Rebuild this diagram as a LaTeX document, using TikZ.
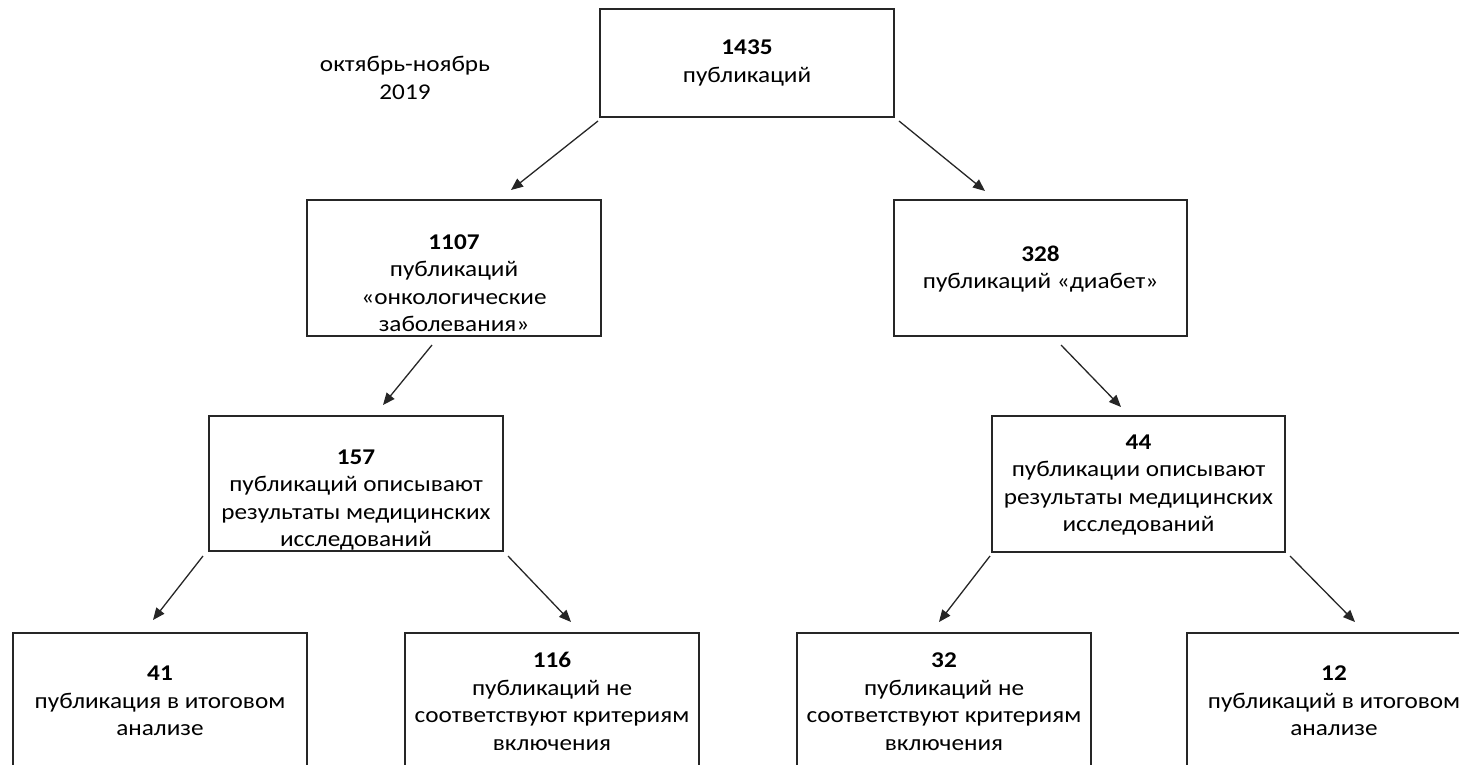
\documentclass[tikz,border=0pt]{standalone}
\usepackage{fontspec}
\setmainfont{Carlito}[FakeStretch=1.12]
\usetikzlibrary{arrows.meta}
\tikzset{
  box/.style={draw=black!85, line width=1.4pt, minimum width=294pt, minimum height=136pt, inner sep=0pt, outer sep=0pt},
  txt/.style={align=center, font=\fontsize{22.5pt}{27.5pt}\selectfont, inner sep=0pt},
  arr/.style={draw=black!85, line width=1.3pt, -{Triangle[length=12pt,width=10pt]}}
}
\begin{document}
\begin{tikzpicture}[x=1pt,y=-1pt]
\useasboundingbox (0,0) rectangle (1459,764);
\clip (0,0) rectangle (1459,764);
% boxes
\node[box, minimum height=108pt] (top) at (747,63) {};
\node[box] (L1) at (454,268) {};
\node[box, minimum width=293pt] (R1) at (1040.5,268) {};
\node[box, minimum height=135pt] (L2) at (356,483.5) {};
\node[box, minimum width=293pt] (R2) at (1138.5,484) {};
\node[box] (B1) at (160,701) {};
\node[box] (B2) at (552,701) {};
\node[box] (B3) at (944,701) {};
\node[box] (B4) at (1334,701) {};
% texts
\node[txt] (date) at (405,78) {октябрь-ноябрь\\2019};
\node[txt] (topt) at (747,63) {\textbf{1435}\\публикаций};
\node[txt] (L1t) at (454,283) {\textbf{1107}\\публикаций\\«онкологические\\заболевания»};
\node[txt] (R1t) at (1040.5,269) {\textbf{328}\\публикаций «диабет»};
\node[txt] (L2t) at (356,500) {\textbf{157}\\публикаций описывают\\результаты медицинских\\исследований};
\node[txt] (R2t) at (1138.5,485) {\textbf{44}\\публикации описывают\\результаты медицинских\\исследований};
\node[txt] (B1t) at (160,701) {\textbf{41}\\публикация в итоговом\\анализе};
\node[txt] (B2t) at (552,701.5) {\textbf{116}\\публикаций не\\соответствуют критериям\\включения};
\node[txt] (B3t) at (944,701.5) {\textbf{32}\\публикаций не\\соответствуют критериям\\включения};
\node[txt] (B4t) at (1334,701) {\textbf{12}\\публикаций в итоговом\\анализе};
% arrows
\draw[arr] ([shift={(-2,4)}]top.south west) -- ([shift={(204,-10)}]L1.north west);
\draw[arr] ([shift={(5,4)}]top.south east) -- ([shift={(91,-9)}]R1.north west);
\draw[arr] ([shift={(125,9)}]L1.south west) -- ([shift={(174,-11)}]L2.north west);
\draw[arr] ([shift={(167,9)}]R1.south west) -- ([shift={(129,-9)}]R2.north west);
\draw[arr] ([shift={(-6,5)}]L2.south west) -- ([shift={(140,-13)}]B1.north west);
\draw[arr] ([shift={(5,5)}]L2.south east) -- ([shift={(166,-11)}]B2.north west);
\draw[arr] ([shift={(-2,4)}]R2.south west) -- ([shift={(142,-11)}]B3.north west);
\draw[arr] ([shift={(5,4)}]R2.south east) -- ([shift={(168,-11)}]B4.north west);
\end{tikzpicture}
\end{document}
